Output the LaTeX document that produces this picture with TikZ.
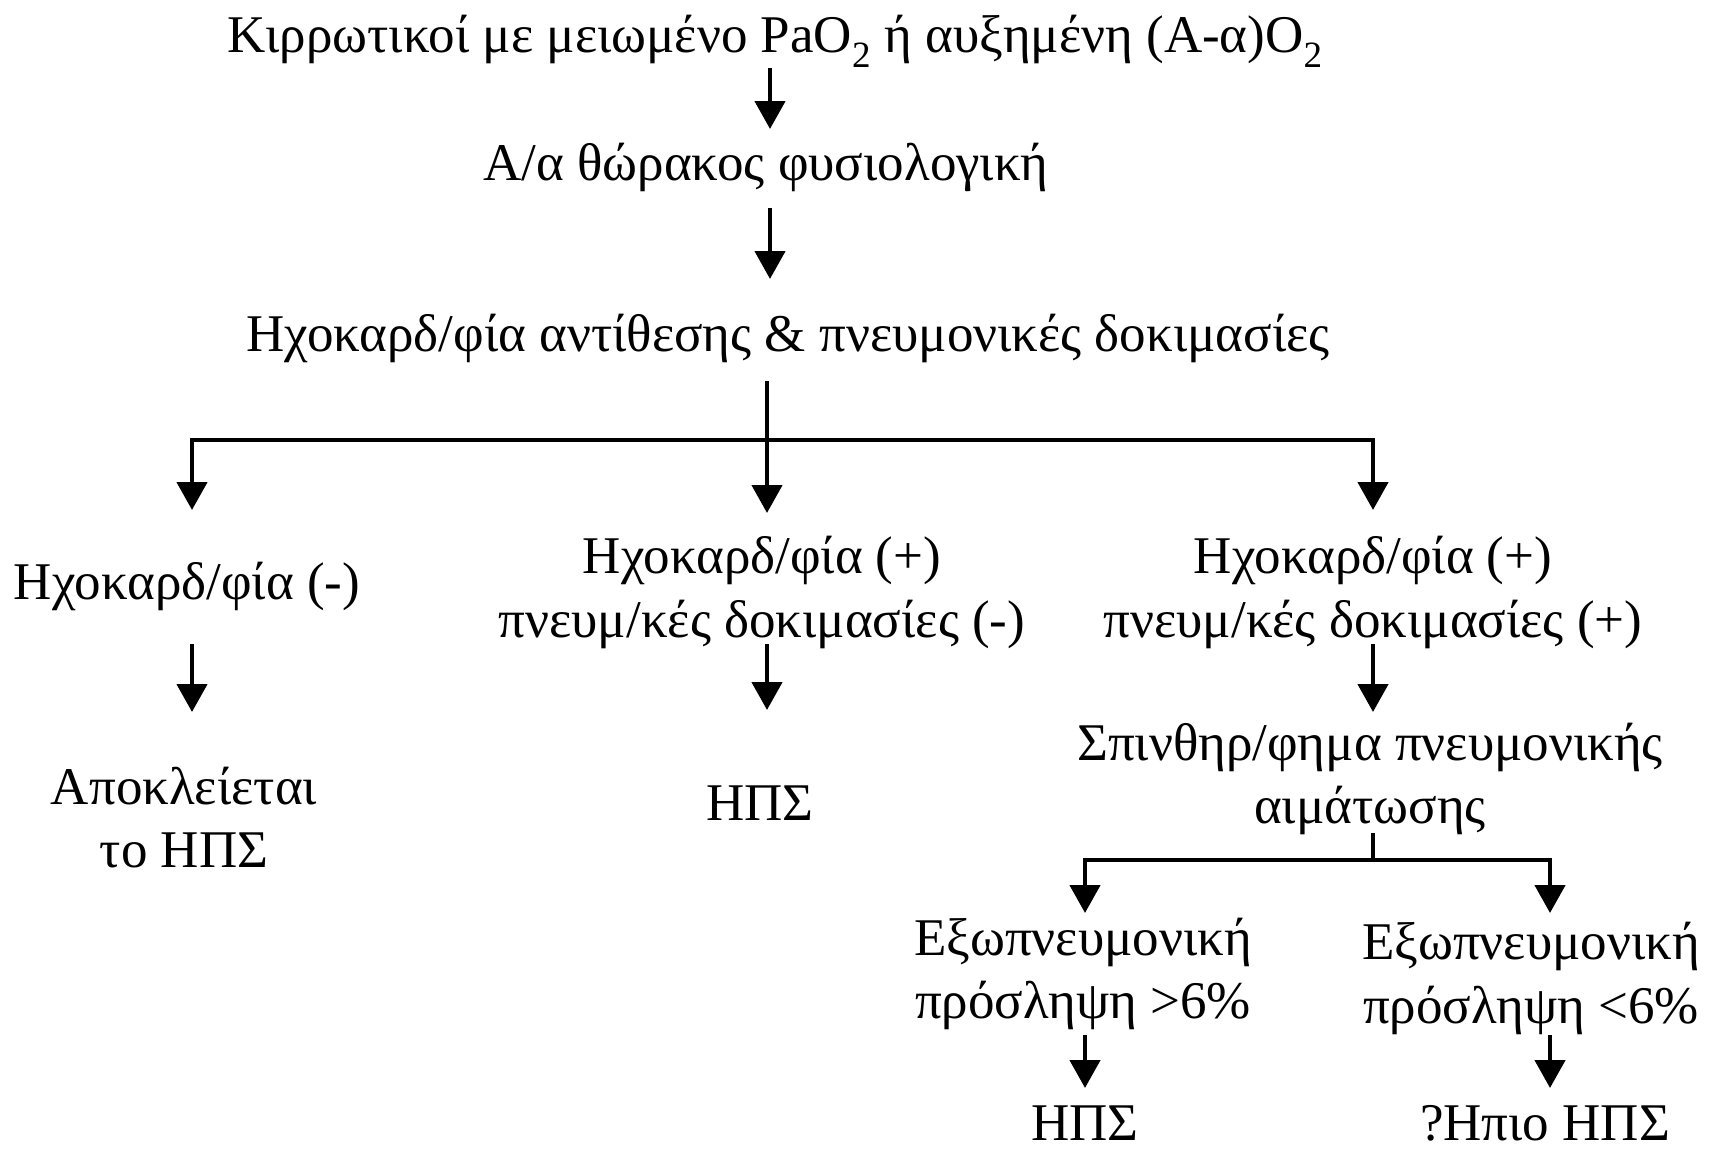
\documentclass[tikz,border=0pt]{standalone}
\usepackage{fontspec}
\setmainfont{Liberation Serif}
\usetikzlibrary{arrows.meta}
\begin{document}
\begin{tikzpicture}[x=1pt,y=-1pt,
  lbl/.style={anchor=base,inner sep=0pt,font=\fontsize{53}{63}\selectfont},
  conn/.style={line width=4.5pt,line join=miter},
  arr/.style={conn,-{Triangle[width=30pt,length=28pt]}},
  arr2/.style={conn,{Triangle[width=30pt,length=28pt]}-{Triangle[width=30pt,length=28pt]}}]
\fill[white] (0,0) rectangle (1718,1151);
\useasboundingbox (0,0) rectangle (1718,1151);
% texts
\node[lbl] (t0) at (775,52) {Κιρρωτικοί με μειωμένο PaO\textsubscript{2} ή αυξημένη (A-α)O\textsubscript{2}};
\node[lbl] (t1) at (766,180) {Α/α θώρακος φυσιολογική};
\node[lbl] (t2) at (788,351) {Ηχοκαρδ/φία αντίθεσης \& πνευμονικές δοκιμασίες};
\node[lbl] (l1) at (187,599) {Ηχοκαρδ/φία (-)};
\node[lbl] (l2a) at (184,804) {Αποκλείεται};
\node[lbl] (l2b) at (184,867) {το ΗΠΣ};
\node[lbl] (m1a) at (762,573) {Ηχοκαρδ/φία (+)};
\node[lbl] (m1b) at (762,637) {πνευμ/κές δοκιμασίες (-)};
\node[lbl] (m2) at (760,820) {ΗΠΣ};
\node[lbl] (r1a) at (1373,573) {Ηχοκαρδ/φία (+)};
\node[lbl] (r1b) at (1373,637) {πνευμ/κές δοκιμασίες (+)};
\node[lbl] (r2a) at (1370,760) {Σπινθηρ/φημα πνευμονικής};
\node[lbl] (r2b) at (1370,823) {αιμάτωσης};
\node[lbl] (a1a) at (1083,955) {Εξωπνευμονική};
\node[lbl] (a1b) at (1083,1018) {πρόσληψη >6\%};
\node[lbl] (a2) at (1085,1140) {ΗΠΣ};
\node[lbl] (b1a) at (1531,959) {Εξωπνευμονική};
\node[lbl] (b1b) at (1531,1023) {πρόσληψη <6\%};
\node[lbl] (b2) at (1545,1140) {?Ηπιο ΗΠΣ};
% connector points
\coordinate (s0) at (770,68);   \coordinate (e0) at (770,129);
\coordinate (s1) at (770,208);  \coordinate (e1) at (770,279);
\coordinate (s2) at (767,381);  \coordinate (e2) at (767,513);
\coordinate (jc) at (767,440);
\coordinate (eL) at (192,510);  \coordinate (eR) at (1373,510);
\coordinate (sL) at (192,644);  \coordinate (tL) at (192,712);
\coordinate (sM) at (767,644);  \coordinate (tM) at (767,710);
\coordinate (sR) at (1373,644); \coordinate (tR) at (1373,712);
\coordinate (s3) at (1373,833); \coordinate (j3) at (1373,860);
\coordinate (e3L) at (1085,913); \coordinate (e3R) at (1550,913);
\coordinate (sA) at (1085,1035); \coordinate (tA) at (1085,1088);
\coordinate (sB) at (1550,1035); \coordinate (tB) at (1550,1088);
% connectors
\draw[arr] (s0) -- (e0);
\draw[arr] (s1) -- (e1);
\draw[arr] (s2) -- (e2);
\draw[arr2] (eL) |- (jc) -| (eR);
\draw[arr] (sL) -- (tL);
\draw[arr] (sM) -- (tM);
\draw[arr] (sR) -- (tR);
\draw[conn] (s3) -- (j3);
\draw[arr2] (e3L) |- (j3) -| (e3R);
\draw[arr] (sA) -- (tA);
\draw[arr] (sB) -- (tB);
\end{tikzpicture}
\end{document}
